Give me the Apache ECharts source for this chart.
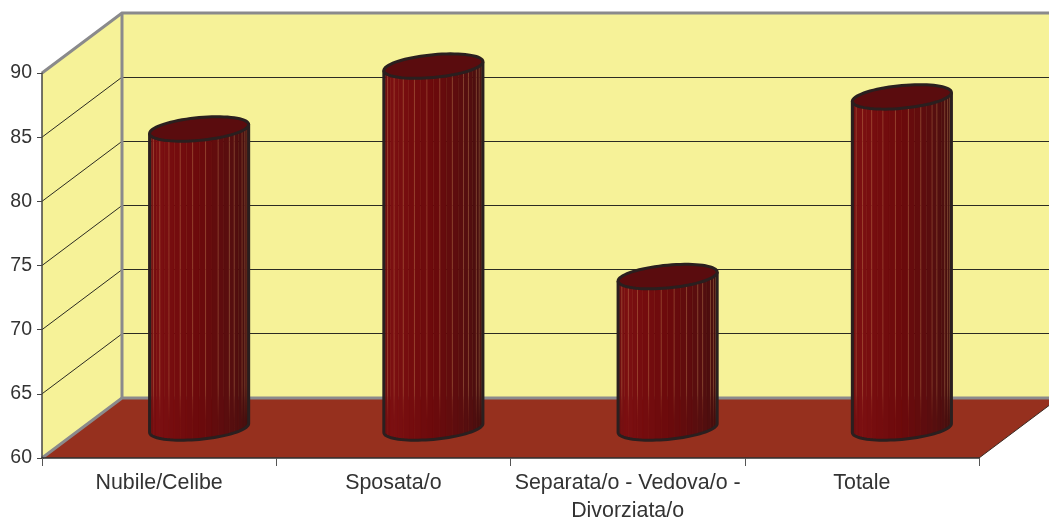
<!DOCTYPE html>
<html>
<head>
<meta charset="utf-8">
<style>
  html, body { margin: 0; padding: 0; background: #fff; }
  #chart { width: 1049px; height: 518px; }
</style>
<script src="https://cdn.jsdelivr.net/npm/echarts@6/dist/echarts.min.js"></script>
</head>
<body>
<div id="chart"></div>
<script>
// chart data
var categories = ['Nubile/Celibe', 'Sposata/o', 'Separata/o - Vedova/o -\nDivorziata/o', 'Totale']
var values = [83.3, 88.2, 71.8, 85.8]
var yMin = 60
var yMax = 90
var yStep = 5
var gridValues = [65, 70, 75, 80, 85]

// fake 3d depth of the box, in pixels
var depthX = 80
var depthY = -60

// cylinder shading, left to right
var shadeStops = [
  [0, [104, 14, 18]], [0.2, [124, 15, 17]], [0.5, [108, 10, 12]],
  [0.75, [84, 14, 15]], [1, [58, 15, 13]]
]
var seams = [3, 5, 7, 9, 11, 13, 15, 17, 18, 20, 21, 22]
var facetCount = 24

function shadeAt (p) {
  for (var i = 1; i < shadeStops.length; i++) {
    if (p <= shadeStops[i][0]) {
      var a = shadeStops[i - 1]
      var b = shadeStops[i]
      var k = (p - a[0]) / (b[0] - a[0])
      var c = a[1].map(function (v, j) { return Math.round(v + (b[1][j] - v) * k) })
      return 'rgb(' + c.join(',') + ')'
    }
  }
  return 'rgb(58,15,13)'
}

function renderBox (params, api) {
  var rect = params.coordSys
  var left = rect.x
  var right = rect.x + rect.width
  var top = rect.y
  var bottom = rect.y + rect.height
  var edge = { stroke: '#8a8a8c', lineWidth: 3, fill: null }
  var children = [
    { type: 'polygon', shape: { points: [[left, top], [left + depthX, top + depthY], [left + depthX, bottom + depthY], [left, bottom]] }, style: { fill: '#f6f298' } },
    { type: 'rect', shape: { x: left + depthX, y: top + depthY, width: rect.width, height: rect.height }, style: { fill: '#f6f298' } },
    { type: 'polygon', shape: { points: [[left, bottom], [left + depthX, bottom + depthY], [right + depthX, bottom + depthY], [right, bottom]] }, style: { fill: '#96301e' } },
    { type: 'line', shape: { x1: right, y1: bottom, x2: right + depthX, y2: bottom + depthY }, style: { stroke: '#3a2a22', lineWidth: 1 } }
  ]
  // grid lines run along the side wall and the back wall
  gridValues.forEach(function (v) {
    var y = api.coord([0, v])[1]
    var backY = Math.floor(y + depthY) + 0.5
    children.push({ type: 'line', shape: { x1: left, y1: y, x2: left + depthX, y2: y + depthY }, style: { stroke: '#2b2b22', lineWidth: 1 } })
    children.push({ type: 'line', shape: { x1: left + depthX, y1: backY, x2: right + depthX, y2: backY }, style: { stroke: '#2b2b22', lineWidth: 1 } })
  })
  children.push({ type: 'polyline', shape: { points: [[left, top], [left + depthX, top + depthY], [right + depthX, top + depthY]] }, style: edge })
  children.push({ type: 'line', shape: { x1: left + depthX, y1: top + depthY, x2: left + depthX, y2: bottom + depthY }, style: edge })
  children.push({ type: 'polyline', shape: { points: [[left, bottom], [left + depthX, bottom + depthY], [right + depthX, bottom + depthY]] }, style: edge })
  return { type: 'group', children: children }
}

function renderCylinder (params, api) {
  var idx = api.value(0)
  var topPt = api.coord([idx, api.value(1)])
  var basePt = api.coord([idx, yMin])
  var cx = topPt[0] + depthX / 2
  var topY = topPt[1] + depthY / 2
  var baseY = basePt[1] + depthY / 2
  var a = api.size([1, 0])[0] * 0.2115
  var b = a * 0.23
  var tilt = a * 0.09

  function rim (cy, t) {
    return [cx + a * Math.cos(t), cy - tilt * Math.cos(t) + b * Math.sin(t)]
  }

  var children = []
  var i
  for (i = 0; i < facetCount; i++) {
    var t1 = Math.PI - Math.PI * i / facetCount
    var t2 = Math.PI - Math.PI * (i + 1) / facetCount
    children.push({
      type: 'polygon',
      shape: { points: [rim(topY, t1), rim(topY, t2), rim(baseY, t2), rim(baseY, t1)] },
      style: { fill: shadeAt((i + 0.5) / facetCount), stroke: shadeAt((i + 0.5) / facetCount), lineWidth: 0.5 }
    })
  }
  // pale seams, they fade out as they reach the floor
  seams.forEach(function (s) {
    var t = Math.PI - Math.PI * s / facetCount
    var p1 = rim(topY, t)
    var p2 = rim(baseY, t)
    children.push({
      type: 'line',
      shape: { x1: p1[0], y1: p1[1], x2: p2[0], y2: p2[1] },
      style: {
        lineWidth: 1,
        stroke: new echarts.graphic.LinearGradient(0, 385, 0, 420, [
          { offset: 0, color: 'rgba(205,140,90,0.32)' },
          { offset: 1, color: 'rgba(205,140,90,0.03)' }
        ], true)
      }
    })
  })
  // outline of the body
  var outline = []
  outline.push(rim(topY, Math.PI))
  for (i = 0; i <= 40; i++) outline.push(rim(baseY, Math.PI - Math.PI * i / 40))
  outline.push(rim(topY, 0))
  children.push({ type: 'polyline', shape: { points: outline }, style: { stroke: '#2a1f1f', lineWidth: 3, fill: null } })
  // top cap
  var cap = []
  for (i = 0; i < 72; i++) cap.push(rim(topY, Math.PI * 2 * i / 72))
  children.push({ type: 'polygon', shape: { points: cap }, style: { fill: '#5a0c0e', stroke: '#2a1f1f', lineWidth: 3 } })
  return { type: 'group', children: children }
}

var chart = echarts.init(document.getElementById('chart'))
var option = {
  animation: false,
  grid: { left: 42, right: 70, top: 73, bottom: 60, outerBoundsMode: 'none' },
  textStyle: { fontFamily: 'Liberation Sans' },
  xAxis: {
    type: 'category',
    data: categories,
    z: 5,
    axisLine: { lineStyle: { color: '#2f2f2f', width: 1.5 } },
    axisTick: { show: true, alignWithLabel: false, length: 8, lineStyle: { color: '#555', width: 1 } },
    axisLabel: { interval: 0, margin: 11, fontSize: 21.4, lineHeight: 28, color: '#333', fontFamily: 'Liberation Sans' }
  },
  yAxis: {
    type: 'value',
    min: yMin,
    max: yMax,
    interval: yStep,
    z: 5,
    splitLine: { show: false },
    axisLine: { show: true, lineStyle: { color: '#444', width: 1.5 } },
    axisTick: { show: true, length: 5, lineStyle: { color: '#444', width: 1 } },
    axisLabel: { margin: 10, fontSize: 19.5, color: '#333', fontFamily: 'Liberation Sans', padding: [3, 0, 0, 0] }
  },
  series: [
    {
      type: 'custom',
      z: 1,
      silent: true,
      renderItem: renderBox,
      data: [[0, yMin]]
    },
    {
      type: 'custom',
      z: 6,
      renderItem: renderCylinder,
      encode: { x: 0, y: 1 },
      data: values.map(function (v, i) { return [i, v] })
    }
  ]
}
chart.setOption(option)
</script>
</body>
</html>
